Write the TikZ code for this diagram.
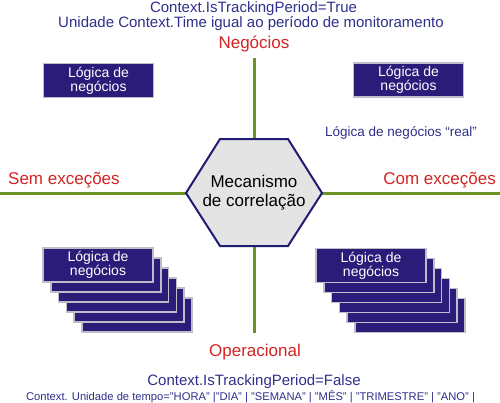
\documentclass[tikz,border=0pt]{standalone}
\usepackage{fontspec}
\setmainfont{Liberation Sans}
\definecolor{navytxt}{RGB}{48,48,140}
\definecolor{redtxt}{RGB}{212,36,36}
\definecolor{boxfill}{RGB}{42,28,120}
\definecolor{boxedge}{RGB}{190,190,200}
\definecolor{greenline}{RGB}{108,146,40}
\definecolor{hexedge}{RGB}{30,28,115}
\definecolor{hexfill}{RGB}{228,228,228}
\begin{document}
\begin{tikzpicture}[x=1pt,y=-1pt,
  bluetxt/.style={text=navytxt, font=\fontsize{15}{18}\selectfont, anchor=base, inner sep=0pt},
  redlbl/.style={text=redtxt, font=\fontsize{17}{20}\selectfont, anchor=base, inner sep=0pt},
  logicbox/.style={fill=boxfill, draw=boxedge, line width=1.5pt, text=white,
    font=\fontsize{14}{13}\selectfont, align=center,
    minimum width=110pt, minimum height=34pt, inner sep=0pt},
  backbox/.style={fill=boxfill, draw=boxedge, line width=1.5pt,
    minimum width=110pt, minimum height=34pt, inner sep=0pt},
  axis/.style={draw=greenline, line width=3pt},
  hexshape/.style={fill=hexfill, draw=hexedge, line width=2pt, line join=miter},
  mectext/.style={font=\fontsize{17}{19}\selectfont, align=center, inner sep=0pt}
]
\useasboundingbox (0,0) rectangle (500,402);
\fill[white] (0,0) rectangle (500,402);

% titles
\node[bluetxt] (t1) at (253.5,12.5) {Context.IsTrackingPeriod=True};
\node[bluetxt] (t2) at (251,27.3) {Unidade Context.Time igual ao período de monitoramento};
\node[redlbl] (neg) at (254,48.3) {Negócios};

% axes
\coordinate (W) at (0,193);
\coordinate (E) at (500,193);
\coordinate (N) at (254,58);
\coordinate (S) at (254,333);
\coordinate (h1) at (186,193);
\coordinate (h2) at (220,139);
\coordinate (h3) at (288,139);
\coordinate (h4) at (322,193);
\coordinate (h5) at (288,246);
\coordinate (h6) at (220,246);
\coordinate (ht) at (254,139);
\coordinate (hb) at (254,246);
\draw[axis] (W) -- (h1);
\draw[axis] (h4) -- (E);
\draw[axis] (N) -- (ht);
\draw[axis] (hb) -- (S);

% hexagon
\draw[hexshape] (h1) -- (h2) -- (h3) -- (h4) -- (h5) -- (h6) -- cycle;
\node[mectext] (mec) at (254,192.5) {Mecanismo\\de correlação};

% side labels
\node[redlbl, anchor=base west] (sem) at (8,184.3) {Sem exceções};
\node[redlbl, anchor=base east] (com) at (496,184.3) {Com exceções};

% top boxes
\node[logicbox] (tl) at (98.5,80.5) {Lógica de\\negócios};
\node[logicbox] (tr) at (408.5,80) {Lógica de\\negócios};
\node[text=navytxt, font=\fontsize{13.5}{16}\selectfont, anchor=base, inner sep=0pt] (real) at (401,136) {Lógica de negócios “real”};

% bottom-left stack
\foreach \k in {5,4,3,2,1}{
  \node[backbox] (bl\k) at (98+7.8*\k,265+10*\k) {};
}
\node[logicbox] (bl0) at (98,265) {Lógica de\\negócios};

% bottom-right stack
\foreach \k in {5,4,3,2,1}{
  \node[backbox] (br\k) at (371+7.8*\k,265.5+10*\k) {};
}
\node[logicbox] (br0) at (371,265.5) {Lógica de\\negócios};

% bottom labels
\node[redlbl] (op) at (255,356.7) {Operacional};
\node[bluetxt] (b1) at (254,385) {Context.IsTrackingPeriod=False};
\node[text=navytxt, font=\fontsize{11.2}{13}\selectfont, anchor=base, inner sep=0pt] (b2) at (250.5,400)
  {Context. Unidade de tempo="HORA" |"DIA" | "SEMANA" | "MÊS" | "TRIMESTRE" | "ANO" |};
\end{tikzpicture}
\end{document}
